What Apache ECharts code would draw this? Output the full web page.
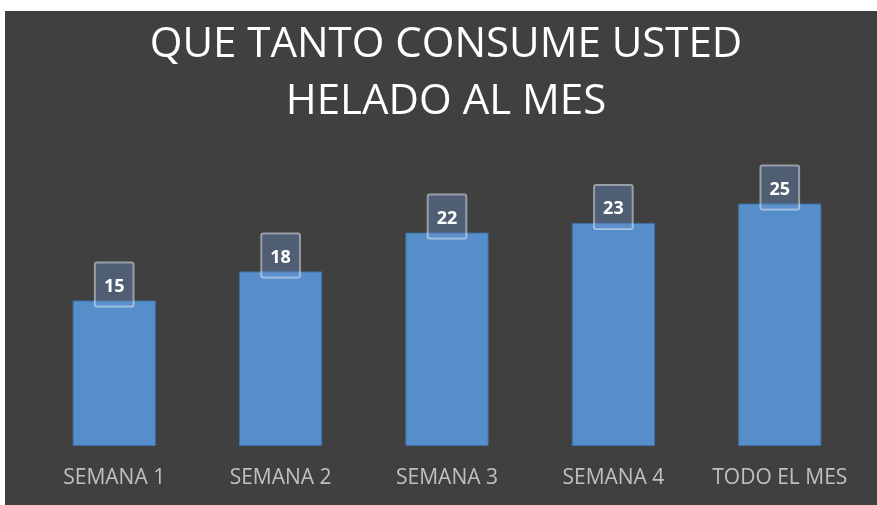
<!DOCTYPE html>
<html>
<head>
<meta charset="utf-8">
<script src="https://cdn.jsdelivr.net/npm/echarts@6/dist/echarts.min.js"></script>
<style>
  html, body { margin: 0; padding: 0; background: #ffffff; }
  #chart { position: absolute; left: 5px; top: 11px; width: 872px; height: 494px; }
</style>
</head>
<body>
<div id="chart"></div>
<script>
// chart data
const categories = ["SEMANA 1", "SEMANA 2", "SEMANA 3", "SEMANA 4", "TODO EL MES"];
const values = [15, 18, 22, 23, 25];
const titleText = "QUE TANTO CONSUME USTED\nHELADO AL MES";

const chart = echarts.init(document.getElementById("chart"));

const option = {
  backgroundColor: "#404040",
  animation: false,
  title: {
    text: titleText,
    left: 436, // centre of the title text
    textAlign: "center",
    top: 1,
    textStyle: {
      color: "#ffffff",
      fontFamily: "Open Sans",
      fontWeight: "normal",
      fontSize: 42,
      lineHeight: 57,
    },
  },
  grid: {
    left: 26,
    right: 14,
    top: 144,
    bottom: 59,
  },
  xAxis: {
    type: "category",
    data: categories,
    axisLine: { show: false },
    axisTick: { show: false },
    axisLabel: {
      interval: 0,
      color: "#c0c0c0",
      fontFamily: "Open Sans",
      fontSize: 21,
      margin: 22,
    },
  },
  yAxis: {
    type: "value",
    min: 0,
    max: 30,
    show: false,
    splitLine: { show: false },
  },
  series: [
    {
      type: "bar",
      data: values,
      barWidth: "50%",
      itemStyle: {
        color: "#558ec8",
        borderColor: "#3d72a8",
        borderWidth: 1,
      },
      label: {
        show: true,
        position: "top",
        distance: -6,
        color: "#ffffff",
        fontFamily: "Open Sans",
        fontWeight: "bold",
        fontSize: 18,
        lineHeight: 20,
        padding: [14, 9, 10, 9],
        backgroundColor: "rgba(110,153,210,0.35)",
        borderColor: "rgba(255,255,255,0.5)",
        borderWidth: 1,
        borderRadius: 2,
      },
    },
  ],
};

chart.setOption(option);
</script>
</body>
</html>
